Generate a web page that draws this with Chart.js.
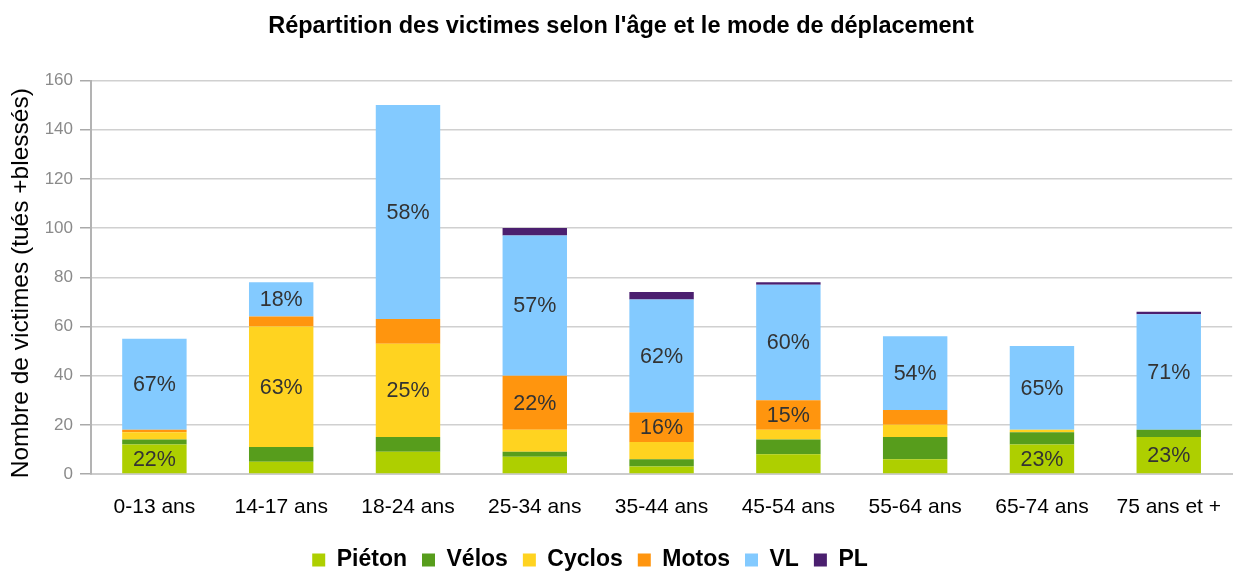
<!DOCTYPE html>
<html>
<head>
<meta charset="utf-8">
<script src="https://cdn.jsdelivr.net/npm/chart.js@4"></script>
<style>
html,body{margin:0;padding:0;background:#fff;}
#wrap{width:1242px;height:571px;position:relative;}
</style>
</head>
<body>
<div id="wrap"><canvas id="c"></canvas></div>
<script>
const categories = ['0-13 ans','14-17 ans','18-24 ans','25-34 ans','35-44 ans','45-54 ans','55-64 ans','65-74 ans','75 ans et +'];
const seriesNames = ['Piéton','Vélos','Cyclos','Motos','VL','PL'];
const pieton = [12, 5, 9, 7, 3, 8, 6, 12, 15];
const velos  = [2, 6, 6, 2, 3, 6, 9, 5, 3];
const cyclos = [3, 49, 38, 9, 7, 4, 5, 1, 0];
const motos  = [1, 4, 10, 22, 12, 12, 6, 0, 0];
const vl     = [37, 14, 87, 57, 46, 47, 30, 34, 47];
const pl     = [0, 0, 0, 3, 3, 1, 0, 0, 1];
const yTicks = [0, 20, 40, 60, 80, 100, 120, 140, 160];
const yTitle = 'Nombre de victimes (tués +blessés)';
const chartTitle = "Répartition des victimes selon l'âge et le mode de déplacement";
const labelMin = 12;

const colors = ['#aecf00','#579d1c','#ffd320','#ff950e','#83caff','#4b1f6f'];
const seriesData = [pieton, velos, cyclos, motos, vl, pl];
const totals = categories.map((_, i) => seriesData.reduce((s, arr) => s + arr[i], 0));

const FONT = "'Liberation Sans', Arial, sans-serif";

const labelPlugin = {
  id: 'segLabels',
  afterLayout(chart) {
    // legend in the reference sits slightly left of the page centre
    chart.legend.right -= 62;
    chart.legend.width -= 62;
  },
  afterDatasetsDraw(chart) {
    const ctx = chart.ctx;
    ctx.save();
    ctx.font = '21.5px ' + FONT;
    ctx.fillStyle = '#333333';
    ctx.textAlign = 'center';
    ctx.textBaseline = 'middle';
    chart.data.datasets.forEach((ds, di) => {
      const meta = chart.getDatasetMeta(di);
      meta.data.forEach((el, i) => {
        const v = ds.data[i];
        if (v >= labelMin) {
          const pct = Math.round(v / totals[i] * 100) + '%';
          ctx.fillText(pct, el.x, (el.y + el.base) / 2 + 1);
        }
      });
    });
    ctx.restore();
  },
  afterDraw(chart) {
    const ctx = chart.ctx;
    const a = chart.chartArea;
    ctx.save();
    ctx.translate(21, (a.top + a.bottom) / 2 + 6);
    ctx.rotate(-Math.PI / 2);
    ctx.font = '24.5px ' + FONT;
    ctx.fillStyle = '#000';
    ctx.textAlign = 'center';
    ctx.textBaseline = 'middle';
    ctx.fillText(yTitle, 0, 0);
    ctx.restore();
  }
};

new Chart(document.getElementById('c'), {
  type: 'bar',
  data: {
    labels: categories,
    datasets: seriesNames.map((n, k) => ({
      label: n,
      data: seriesData[k],
      backgroundColor: colors[k],
      borderWidth: 0,
      categoryPercentage: 1.0,
      barPercentage: 0.508
    }))
  },
  options: {
    responsive: true,
    maintainAspectRatio: false,
    animation: false,
    layout: { padding: { left: 0, right: 0, top: 0, bottom: -10.5 } },
    plugins: {
      title: {
        display: true,
        text: chartTitle,
        font: { family: FONT, size: 23.5, weight: 'bold' },
        color: '#000',
        padding: { top: 12.5, bottom: 39.8 }
      },
      legend: {
        position: 'bottom',
        labels: {
          font: { family: FONT, size: 23, weight: 'bold' },
          color: '#000',
          boxWidth: 13,
          boxHeight: 13,
          padding: 15
        }
      },
      tooltip: { enabled: false }
    },
    scales: {
      x: {
        stacked: true,
        grid: { display: false, drawTicks: false },
        border: { display: true, color: '#cccccc', width: 2 },
        ticks: { font: { family: FONT, size: 21 }, color: '#000', padding: 21 },
        afterFit(scale) { scale.height = 59.5; }
      },
      y: {
        stacked: true,
        min: 0,
        max: 160,
        afterBuildTicks(scale) { scale.ticks = yTicks.map(v => ({ value: v })); },
        afterFit(scale) { scale.width = 91; },
        grid: { color: '#d0d0d0', lineWidth: 1.5, tickLength: 11, tickColor: '#aaaaaa' },
        border: { display: true, color: '#b3b3b3', width: 2 },
        ticks: { font: { family: FONT, size: 17 }, color: '#8a8a8a', padding: 7 },
        title: { display: false }
      }
    }
  },
  plugins: [labelPlugin]
});
</script>
</body>
</html>
